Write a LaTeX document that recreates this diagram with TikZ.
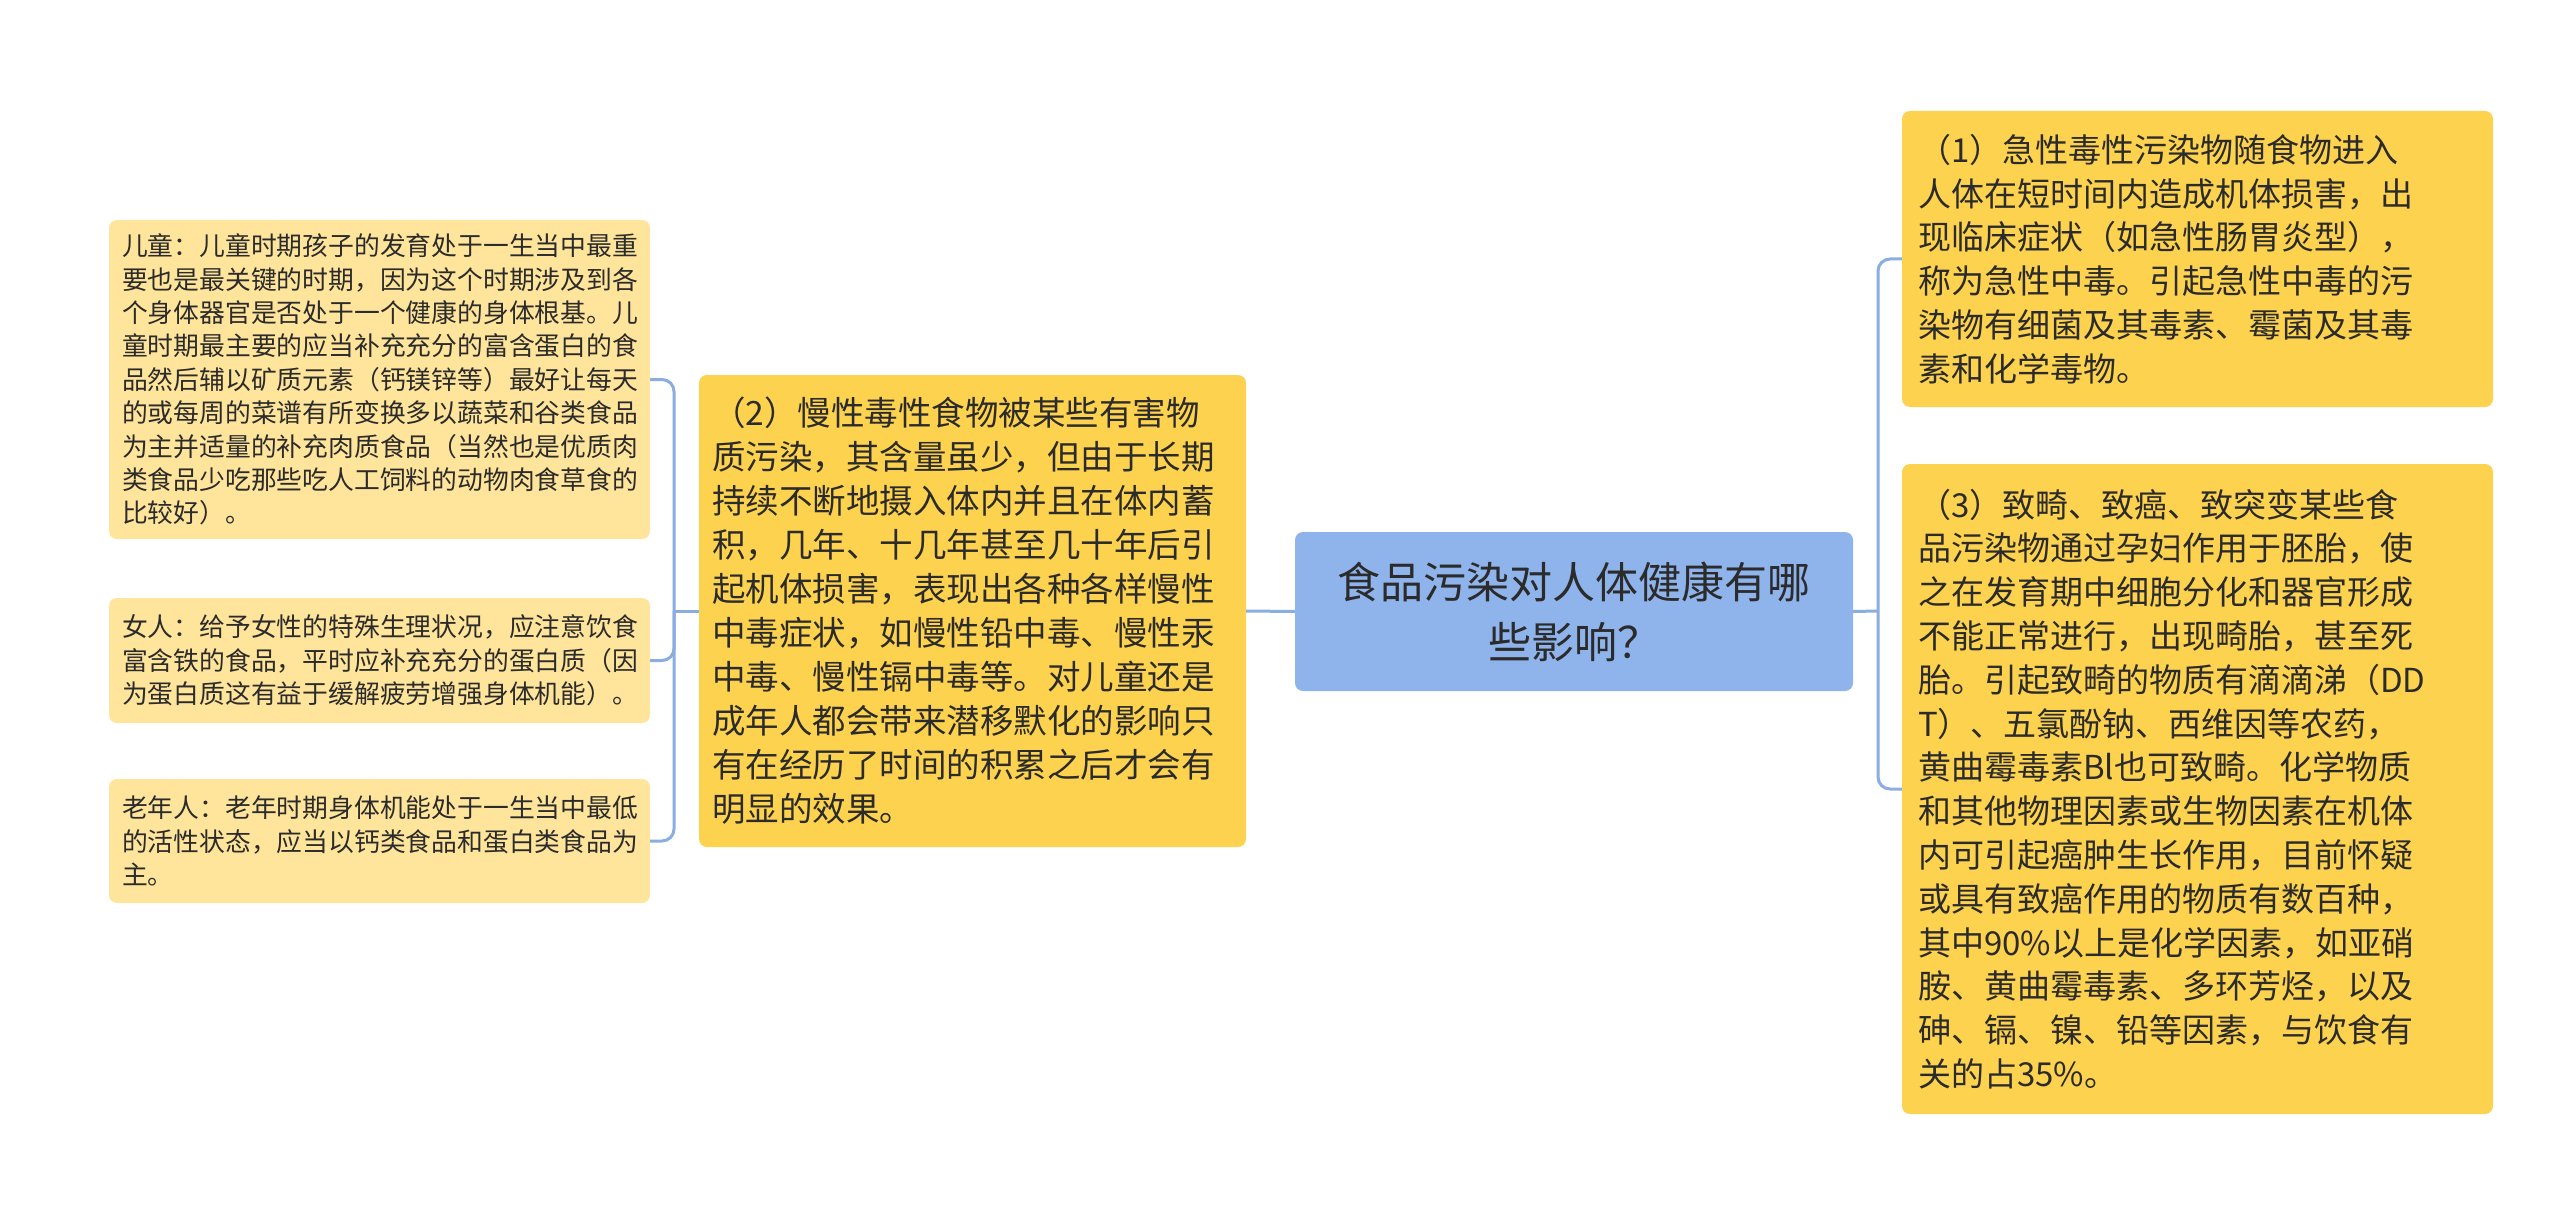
\documentclass[tikz,border=0pt]{standalone}
\usepackage{fontspec}
\setmainfont{Noto Sans CJK SC}
\definecolor{boxyellow}{HTML}{FDD24F}
\definecolor{boxlight}{HTML}{FFE59B}
\definecolor{rootblue}{HTML}{8FB3EB}
\definecolor{linkblue}{HTML}{8BAEE2}
\definecolor{txt}{HTML}{2B2B2B}
\tikzset{
  base/.style={rounded corners=8pt, inner xsep=0pt, inner ysep=0pt, text=txt, align=left},
  smallbox/.style={base, fill=boxlight, minimum width=541pt, text width=515pt,
    font=\fontsize{25.8}{33.4}\selectfont},
  midbox/.style={base, fill=boxyellow, font=\fontsize{33.5}{44}\selectfont},
  rightbox/.style={base, fill=boxyellow, minimum width=591pt, text width=559pt,
    font=\fontsize{33}{43.8}\selectfont},
  rootbox/.style={base, fill=rootblue, align=center, minimum width=558pt, minimum height=159pt,
    text width=530pt, font=\fontsize{43}{60}\selectfont},
  link/.style={draw=linkblue, line width=3pt, rounded corners=12pt}
}
\begin{document}
\begin{tikzpicture}[x=1pt,y=-1pt]
\useasboundingbox[fill=white] (0,0) rectangle (2560,1225);

\node[rootbox] (root) at (1574,611.5) {食品污染对人体健康有哪\\些影响？};

\node[midbox, minimum width=547pt, text width=521pt, minimum height=472pt] (mid) at (972.5,611) {%
（2）慢性毒性食物被某些有害物\\
质污染，其含量虽少，但由于长期\\
持续不断地摄入体内并且在体内蓄\\
积，几年、十几年甚至几十年后引\\
起机体损害，表现出各种各样慢性\\
中毒症状，如慢性铅中毒、慢性汞\\
中毒、慢性镉中毒等。对儿童还是\\
成年人都会带来潜移默化的影响只\\
有在经历了时间的积累之后才会有\\
明显的效果。};

\node[smallbox, minimum height=319pt] (child) at (379.5,379.5) {%
儿童：儿童时期孩子的发育处于一生当中最重\\
要也是最关键的时期，因为这个时期涉及到各\\
个身体器官是否处于一个健康的身体根基。儿\\
童时期最主要的应当补充充分的富含蛋白的食\\
品然后辅以矿质元素（钙镁锌等）最好让每天\\
的或每周的菜谱有所变换多以蔬菜和谷类食品\\
为主并适量的补充肉质食品（当然也是优质肉\\
类食品少吃那些吃人工饲料的动物肉食草食的\\
比较好）。};

\node[smallbox, minimum height=125pt] (woman) at (379.5,660.5) {%
女人：给予女性的特殊生理状况，应注意饮食\\
富含铁的食品，平时应补充充分的蛋白质（因\\
为蛋白质这有益于缓解疲劳增强身体机能）。};

\node[smallbox, minimum height=124pt] (old) at (379.5,841) {%
老年人：老年时期身体机能处于一生当中最低\\
的活性状态，应当以钙类食品和蛋白类食品为\\
主。};

\node[rightbox, minimum height=296pt] (acute) at (2197.5,259) {%
（1）急性毒性污染物随食物进入\\
人体在短时间内造成机体损害，出\\
现临床症状（如急性肠胃炎型），\\
称为急性中毒。引起急性中毒的污\\
染物有细菌及其毒素、霉菌及其毒\\
素和化学毒物。};

\node[rightbox, minimum height=650pt] (terat) at (2197.5,789) {%
（3）致畸、致癌、致突变某些食\\
品污染物通过孕妇作用于胚胎，使\\
之在发育期中细胞分化和器官形成\\
不能正常进行，出现畸胎，甚至死\\
胎。引起致畸的物质有滴滴涕（DD\\
T）、五氯酚钠、西维因等农药，\\
黄曲霉毒素Bl也可致畸。化学物质\\
和其他物理因素或生物因素在机体\\
内可引起癌肿生长作用，目前怀疑\\
或具有致癌作用的物质有数百种，\\
其中90\%以上是化学因素，如亚硝\\
胺、黄曲霉毒素、多环芳烃，以及\\
砷、镉、镍、铅等因素，与饮食有\\
关的占35\%。};

\coordinate (lj) at (674,611);
\coordinate (rj) at (1878,611);

\draw[link] (root.west) -- (mid.east);
\draw[link] (root.east) -- (rj);
\draw[link] (acute.west) -| (rj);
\draw[link] (terat.west) -| (rj);
\draw[link] (mid.west) -- (lj);
\draw[link] (child.east) -| (lj);
\draw[link] (woman.east) -| (lj);
\draw[link] (old.east) -| (lj);
\end{tikzpicture}
\end{document}
